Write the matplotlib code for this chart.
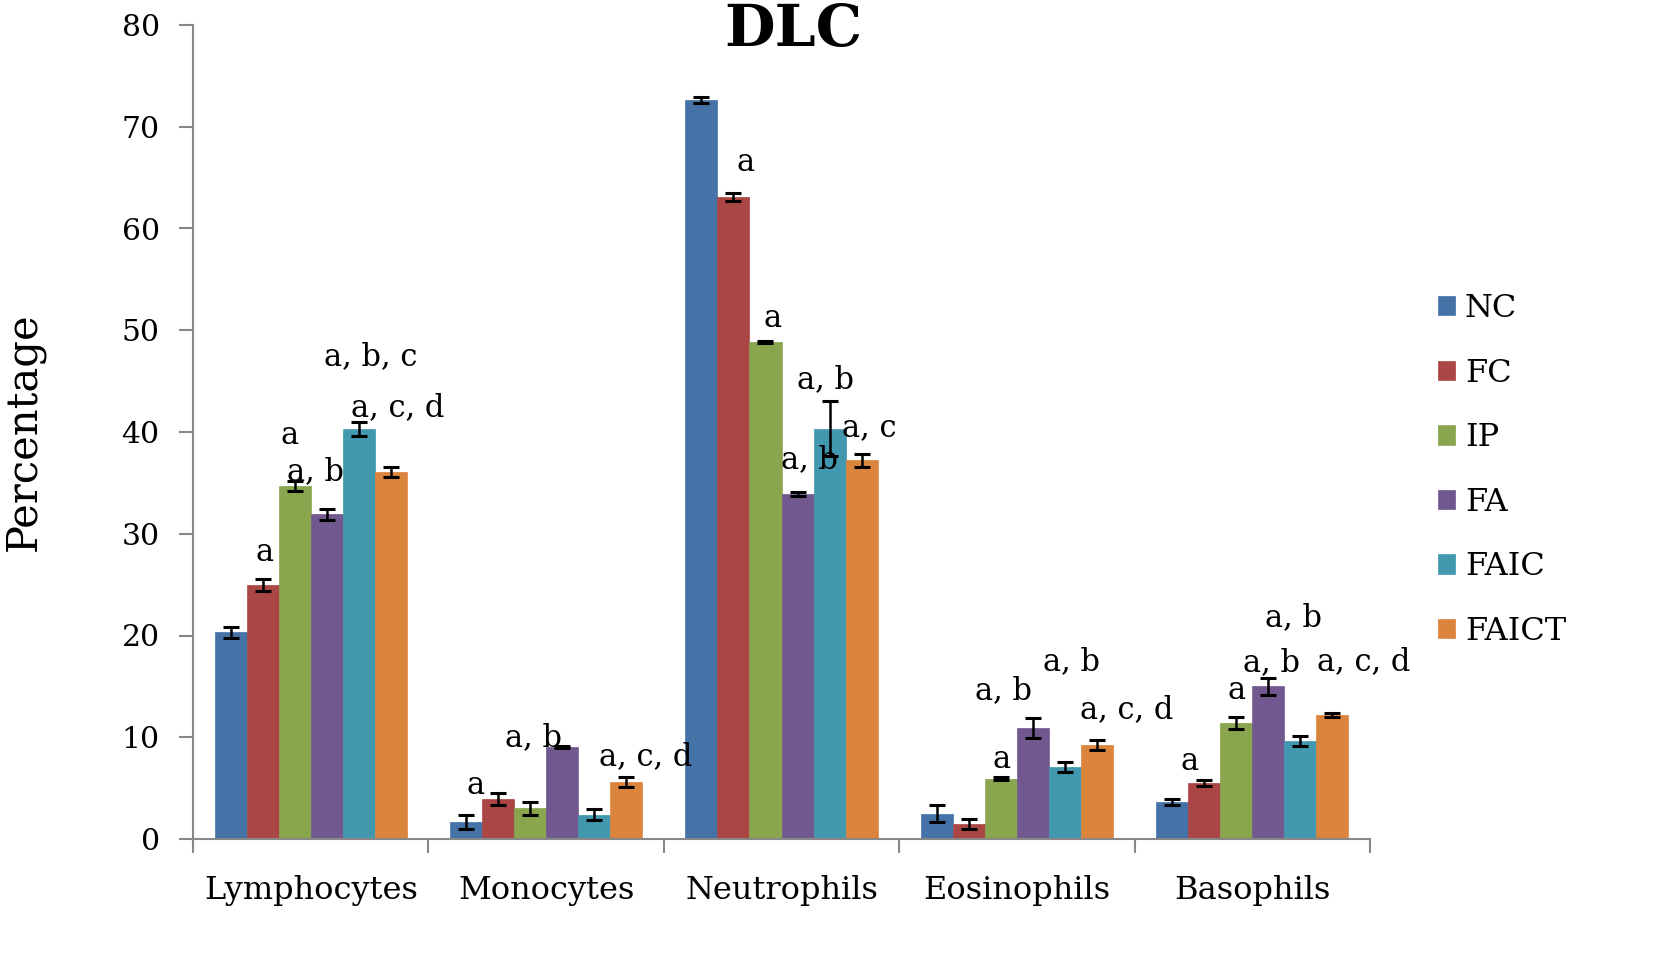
import matplotlib
matplotlib.use("Agg")
import matplotlib.pyplot as plt
import numpy as np

categories = ["Lymphocytes", "Monocytes", "Neutrophils", "Eosinophils", "Basophils"]
groups = ["NC", "FC", "IP", "FA", "FAIC", "FAICT"]

NC    = [20.3, 1.7, 72.6, 2.5, 3.6]
FC    = [25.0, 3.9, 63.1, 1.5, 5.5]
IP    = [34.7, 3.0, 48.8, 5.9, 11.4]
FA    = [31.9, 9.0, 33.9, 10.9, 15.0]
FAIC  = [40.3, 2.4, 40.3, 7.1, 9.6]
FAICT = [36.1, 5.6, 37.2, 9.2, 12.2]

NC_err    = [0.5, 0.7, 0.3, 0.8, 0.3]
FC_err    = [0.6, 0.6, 0.4, 0.5, 0.3]
IP_err    = [0.5, 0.6, 0.1, 0.15, 0.6]
FA_err    = [0.5, 0.1, 0.2, 1.0, 0.8]
FAIC_err  = [0.7, 0.5, 2.7, 0.5, 0.5]
FAICT_err = [0.5, 0.5, 0.6, 0.5, 0.2]

# significance labels: (text, x in category units, y in data units)
sig_text = ["a", "a", "a, b", "a, b, c", "a, c, d",
            "a", "a, b", "a, c, d",
            "a", "a", "a, b", "a, b", "a, c",
            "a", "a, b", "a, b", "a, c, d",
            "a", "a", "a, b", "a, b", "a, c, d"]
sig_x = [-0.198, -0.091, 0.019, 0.253, 0.368,
         0.70, 0.947, 1.423,
         1.849, 1.964, 2.117, 2.189, 2.372,
         2.934, 2.943, 3.232, 3.466,
         3.734, 3.934, 4.083, 4.177, 4.474]
sig_y = [28.2, 39.7, 36.1, 47.4, 42.4,
         5.3, 10.0, 8.1,
         66.5, 51.2, 37.3, 45.1, 40.4,
         7.8, 14.6, 17.4, 12.7,
         7.6, 14.6, 17.3, 21.8, 17.4]

colors = ["#4572A7", "#AA4643", "#89A54E", "#71588F", "#4198AF", "#DB843D"]

values = [NC, FC, IP, FA, FAIC, FAICT]
errors = [NC_err, FC_err, IP_err, FA_err, FAIC_err, FAICT_err]

plt.rcParams['font.family'] = ['DejaVu Serif']

fig = plt.figure(figsize=(16.54, 9.72), dpi=100)
ax = fig.add_axes([193/1654, (972-839)/972, (1370-193)/1654, (839-25)/972])

x = np.arange(len(categories))
w = 0.136
for i, (g, v, e, c) in enumerate(zip(groups, values, errors, colors)):
    ax.bar(x + (i - 2.5) * w, v, w, color=c, label=g, edgecolor=c, linewidth=0.5,
           yerr=e, capsize=6, error_kw=dict(ecolor="black", elinewidth=1.8, capthick=2.2))

for t, sx, sy in zip(sig_text, sig_x, sig_y):
    ax.text(sx, sy, t, ha="center", va="center", fontsize=22)

ax.set_xlim(-0.5, len(categories) - 0.5)
ax.set_ylim(0, 80)
ax.set_yticks(np.arange(0, 81, 10))
ax.tick_params(axis="y", labelsize=21.5, length=10, width=1.5, color="#888888", pad=14)
ax.set_xticks(x)
ax.set_xticklabels(categories, fontsize=23)
ax.tick_params(axis="x", length=0, pad=26)
ax.set_xticks(np.arange(-0.5, len(categories), 1.0), minor=True)
ax.tick_params(axis="x", which="minor", length=10, width=1.5, color="#888888")

for s in ["top", "right"]:
    ax.spines[s].set_visible(False)
for s in ["left", "bottom"]:
    ax.spines[s].set_color("#888888")
    ax.spines[s].set_linewidth(1.5)

ax.set_ylabel("Percentage", fontsize=30)
ax.yaxis.set_label_coords((45 - 193) / 1177, 0.5)
fig.text(793/1654, 1 - 30/972, "DLC", ha="center", va="center", fontsize=42, fontweight="bold")

leg = fig.legend(loc="center left", bbox_to_anchor=(1425/1654, 1 - 470/972), frameon=False,
                 fontsize=23, handlelength=0.55, handleheight=0.55, handletextpad=0.3,
                 labelspacing=1.05, borderaxespad=0)

fig.savefig("out.png", dpi=100)
